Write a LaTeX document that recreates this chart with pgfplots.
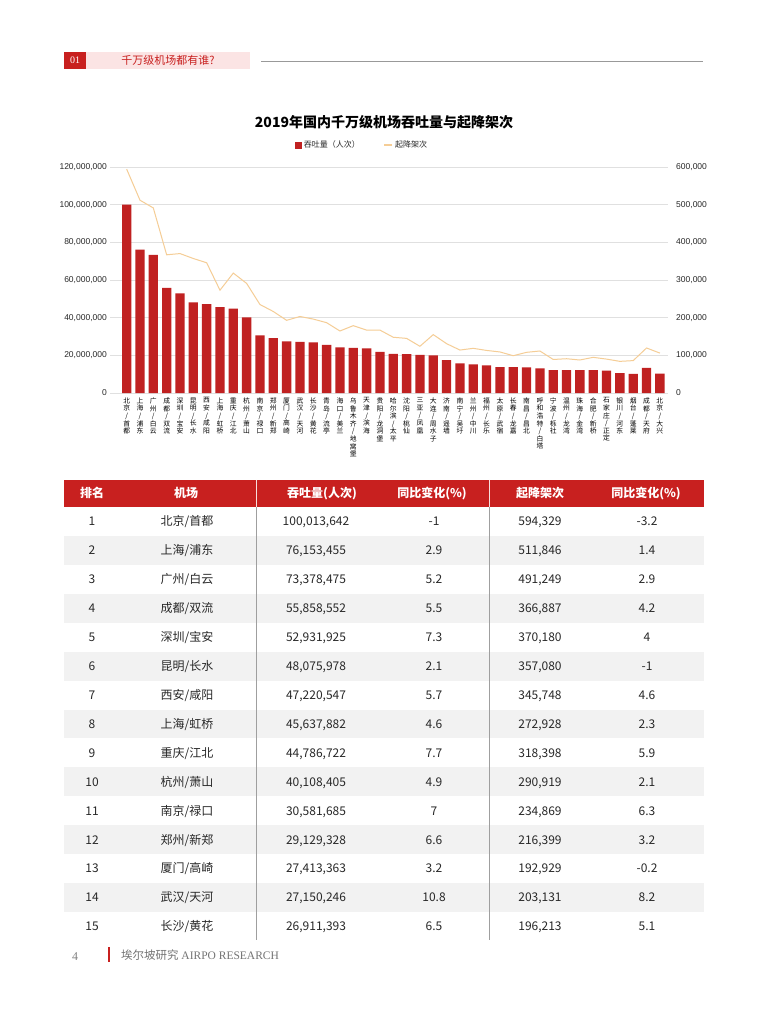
\documentclass[border=0pt]{standalone}
\usepackage{pgfplots}
\pgfplotsset{compat=1.18}
\usepackage{fontspec}
\setmainfont{Liberation Sans}
\newfontfamily\cjk{Noto Sans CJK SC}
\newfontfamily\serif{Liberation Serif}
\definecolor{barred}{RGB}{192,33,33}
\definecolor{hdrred}{RGB}{200,32,31}
\definecolor{pinkbg}{RGB}{251,228,228}
\definecolor{linecol}{RGB}{245,205,150}
\definecolor{rowgray}{RGB}{242,242,242}
\definecolor{gridgray}{RGB}{224,224,224}
\definecolor{txt}{RGB}{40,40,40}
\newcommand\vl[1]{\vbox{\baselineskip=7.6pt\lineskiplimit=-20pt\lineskip=0pt\vlx#1\relax}}
\def\vlx#1{\ifx#1\relax\else\hbox to 7pt{\hss#1\hss}\expandafter\vlx\fi}
\newcommand\trow[6]{%
  \pgfmathsetmacro\rt{-(507+(#1-1)*28.93)}%
  \pgfmathsetmacro\rb{\rt-28.93}%
  \pgfmathsetmacro\rbase{\rt-14.46-4.3}%
  \ifodd#1\relax\else\fill[rowgray] (64pt,\rt pt) rectangle (704pt,\rb pt);\fi
  \node[anchor=base] at (92pt,\rbase pt) {#1};
  \node[anchor=base] at (187pt,\rbase pt) {#2};
  \node[anchor=base] at (316pt,\rbase pt) {#3};
  \node[anchor=base] at (434pt,\rbase pt) {#4};
  \node[anchor=base] at (540pt,\rbase pt) {#5};
  \node[anchor=base] at (647pt,\rbase pt) {#6};
}
\begin{document}
\begin{tikzpicture}
\path[use as bounding box, fill=white] (0,0) rectangle (768pt,-1024pt);
% header
\fill[hdrred] (64pt,-52pt) rectangle (86pt,-69pt);
\node[text=white, font=\serif\fontsize{10}{12}\selectfont] at (75pt,-60.5pt) {01};
\fill[pinkbg] (86pt,-52pt) rectangle (250pt,-69pt);
\node[text=hdrred, font=\cjk\fontsize{11}{13}\selectfont] at (168pt,-60.5pt) {千万级机场都有谁?};
\draw[gray!80, line width=0.8pt] (261pt,-61pt) -- (703pt,-61pt);
% title
\node[font=\cjk\bfseries\fontsize{14}{16}\selectfont, text=black] at (384pt,-122pt) {2019年国内千万级机场吞吐量与起降架次};
% chart
\begin{axis}[
  at={(110pt,-393pt)}, anchor=south west,
  scale only axis, width=558pt, height=226pt,
  xmin=-1.25, xmax=40.61, ymin=0, ymax=120000000,
  scaled y ticks=false,
  axis line style={draw=none}, tick style={draw=none},
  ymajorgrids, grid style={gridgray, line width=0.6pt},
  ytick={0,20000000,40000000,60000000,80000000,100000000,120000000},
  yticklabels={0,{20,000,000},{40,000,000},{60,000,000},{80,000,000},{100,000,000},{120,000,000}},
  yticklabel style={font=\fontsize{8.5}{10}\selectfont, text=txt, inner sep=0pt, xshift=-3pt},
  xtick={0,...,40},
  xticklabels={\vl{北京/首都},\vl{上海/浦东},\vl{广州/白云},\vl{成都/双流},\vl{深圳/宝安},\vl{昆明/长水},\vl{西安/咸阳},\vl{上海/虹桥},\vl{重庆/江北},\vl{杭州/萧山},\vl{南京/禄口},\vl{郑州/新郑},\vl{厦门/高崎},\vl{武汉/天河},\vl{长沙/黄花},\vl{青岛/流亭},\vl{海口/美兰},\vl{乌鲁木齐/地窝堡},\vl{天津/滨海},\vl{贵阳/龙洞堡},\vl{哈尔滨/太平},\vl{沈阳/桃仙},\vl{三亚/凤凰},\vl{大连/周水子},\vl{济南/遥墙},\vl{南宁/吴圩},\vl{兰州/中川},\vl{福州/长乐},\vl{太原/武宿},\vl{长春/龙嘉},\vl{南昌/昌北},\vl{呼和浩特/白塔},\vl{宁波/栎社},\vl{温州/龙湾},\vl{珠海/金湾},\vl{合肥/新桥},\vl{石家庄/正定},\vl{银川/河东},\vl{烟台/蓬莱},\vl{成都/天府},\vl{北京/大兴}},
  xticklabel style={font=\cjk\fontsize{6.8}{7.6}\selectfont, text=black, anchor=north, inner sep=0pt, yshift=-4.5pt},
  legend columns=2,
  legend style={draw=none, fill=none, at={(0.4516,1.097)}, anchor=center,
    font=\cjk\fontsize{8}{9}\selectfont, text=txt,
    /tikz/every even column/.append style={column sep=22pt}},
]
\addplot[ybar, bar width=9.3pt, fill=barred, draw=none,
  legend image code/.code={\fill[barred] (0pt,-3.5pt) rectangle (7pt,3.5pt);}]
coordinates {(0,100013642)(1,76153455)(2,73378475)(3,55858552)(4,52931925)(5,48075978)(6,47220547)(7,45637882)(8,44786722)(9,40108405)(10,30581685)(11,29129328)(12,27413363)(13,27150246)(14,26911393)(15,25500000)(16,24200000)(17,23900000)(18,23700000)(19,21800000)(20,20800000)(21,20700000)(22,20200000)(23,20000000)(24,17500000)(25,15750000)(26,15200000)(27,14700000)(28,13800000)(29,13800000)(30,13600000)(31,13100000)(32,12200000)(33,12200000)(34,12200000)(35,12200000)(36,11900000)(37,10600000)(38,10100000)(39,13300000)(40,10300000)};
\addlegendentry{吞吐量（人次）}
\addlegendimage{linecol, line width=1.2pt, legend image code/.code={\draw[linecol, line width=1.2pt] (0pt,0pt) -- (8pt,0pt);}}
\addlegendentry{起降架次}
\end{axis}
\begin{axis}[
  at={(110pt,-393pt)}, anchor=south west,
  scale only axis, width=558pt, height=226pt,
  xmin=-1.25, xmax=40.61, ymin=0, ymax=600000,
  scaled y ticks=false,
  axis x line=none, axis y line*=right,
  axis line style={draw=none}, tick style={draw=none},
  ytick={0,100000,200000,300000,400000,500000,600000},
  yticklabels={0,{100,000},{200,000},{300,000},{400,000},{500,000},{600,000}},
  yticklabel style={font=\fontsize{8.5}{10}\selectfont, text=txt, inner sep=0pt, anchor=west, xshift=8pt},
]
\addplot[linecol, line width=1pt, no marks]
coordinates {(0,594329)(1,511846)(2,491249)(3,366887)(4,370180)(5,357080)(6,345748)(7,272928)(8,318398)(9,290919)(10,234869)(11,216399)(12,192929)(13,203131)(14,196213)(15,186700)(16,164600)(17,178800)(18,167000)(19,167000)(20,148000)(21,145000)(22,124000)(23,155000)(24,131000)(25,114000)(26,118600)(27,113000)(28,109000)(29,99000)(30,108000)(31,111500)(32,89000)(33,91000)(34,87600)(35,94700)(36,90000)(37,84000)(38,86000)(39,119500)(40,106000)};
\end{axis}
% table header
\fill[hdrred] (64pt,-479.5pt) rectangle (704pt,-507pt);
\begin{scope}[every node/.style={font=\cjk\bfseries\fontsize{12}{14}\selectfont, text=white, inner sep=0pt, anchor=base}]
\node at (92pt,-497.5pt) {排名};
\node at (186pt,-497.5pt) {机场};
\node at (322pt,-497.5pt) {吞吐量(人次)};
\node at (432pt,-497.5pt) {同比变化(\%)};
\node at (540pt,-497.5pt) {起降架次};
\node at (646pt,-497.5pt) {同比变化(\%)};
\end{scope}
\draw[white!85!hdrred, line width=0.6pt] (256pt,-479.5pt) -- (256pt,-507pt);
\draw[white!85!hdrred, line width=0.6pt] (489pt,-479.5pt) -- (489pt,-507pt);
\begin{scope}[every node/.style={font=\cjk\fontsize{12}{14}\selectfont, text=txt, inner sep=0pt}]
\trow{1}{北京/首都}{100,013,642}{-1}{594,329}{-3.2}
\trow{2}{上海/浦东}{76,153,455}{2.9}{511,846}{1.4}
\trow{3}{广州/白云}{73,378,475}{5.2}{491,249}{2.9}
\trow{4}{成都/双流}{55,858,552}{5.5}{366,887}{4.2}
\trow{5}{深圳/宝安}{52,931,925}{7.3}{370,180}{4}
\trow{6}{昆明/长水}{48,075,978}{2.1}{357,080}{-1}
\trow{7}{西安/咸阳}{47,220,547}{5.7}{345,748}{4.6}
\trow{8}{上海/虹桥}{45,637,882}{4.6}{272,928}{2.3}
\trow{9}{重庆/江北}{44,786,722}{7.7}{318,398}{5.9}
\trow{10}{杭州/萧山}{40,108,405}{4.9}{290,919}{2.1}
\trow{11}{南京/禄口}{30,581,685}{7}{234,869}{6.3}
\trow{12}{郑州/新郑}{29,129,328}{6.6}{216,399}{3.2}
\trow{13}{厦门/高崎}{27,413,363}{3.2}{192,929}{-0.2}
\trow{14}{武汉/天河}{27,150,246}{10.8}{203,131}{8.2}
\trow{15}{长沙/黄花}{26,911,393}{6.5}{196,213}{5.1}
\end{scope}
\draw[gray!75, line width=0.6pt] (256pt,-507pt) -- (256pt,-940pt);
\draw[gray!75, line width=0.6pt] (489pt,-507pt) -- (489pt,-940pt);
% footer
\node[anchor=base, text=gray, font=\serif\fontsize{12}{14}\selectfont, inner sep=0pt] at (75pt,-960pt) {4};
\fill[hdrred] (107.5pt,-947pt) rectangle (109.5pt,-962pt);
\node[anchor=base west, text=gray!90!black, inner sep=0pt] at (121pt,-959pt) {{\cjk\fontsize{11.5}{13}\selectfont 埃尔坡研究} {\serif\fontsize{11.5}{13}\selectfont AIRPO RESEARCH}};
\end{tikzpicture}
\end{document}
